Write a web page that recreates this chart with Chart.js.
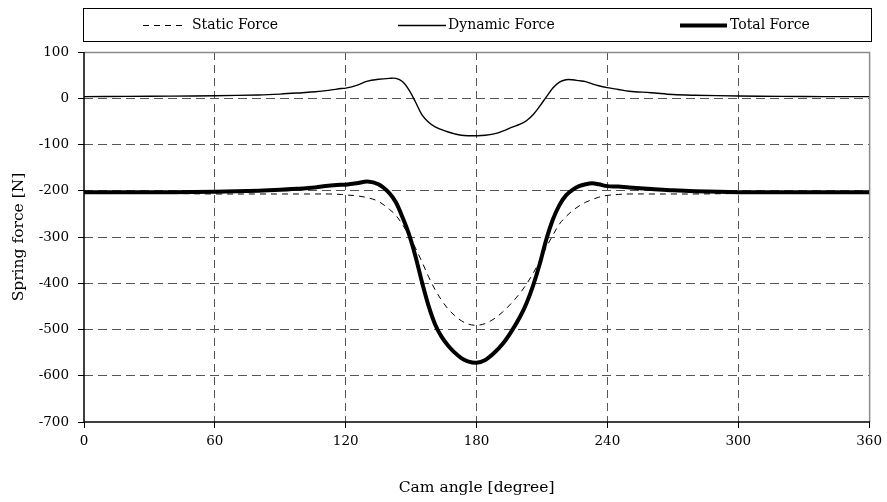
<!DOCTYPE html>
<html>
<head>
<meta charset="utf-8">
<script src="https://cdn.jsdelivr.net/npm/chart.js@4"></script>
<style>
  html, body { margin: 0; padding: 0; background: #fff; }
  #wrap { width: 887px; height: 502px; position: relative; }
</style>
</head>
<body>
<div id="wrap"><canvas id="c" width="887" height="502"></canvas></div>
<script>
// ---- data ----
const angles = [0, 20, 40, 60, 80, 90, 100, 106, 112, 118, 120, 125, 130, 135, 140, 143, 146, 149, 152, 155, 158, 161, 164, 167, 170, 173, 176, 180, 184, 188, 192, 196, 200, 203, 206, 209, 212, 215, 218, 221, 224, 227, 230, 233, 236, 240, 245, 250, 260, 270, 280, 300, 320, 340, 360];
const staticForce = [-206, -206, -206, -207, -207, -207, -207, -207, -207, -208, -209, -211, -215, -223, -240, -253, -273, -296, -324, -354, -386, -414, -437, -456, -470, -481, -488, -491, -487, -477, -462, -443, -421, -401, -378, -351, -322, -296, -272, -256, -243, -233, -225, -219, -214, -210, -208, -207, -207, -207, -207, -206, -206, -206, -206];
const dynamicForce = [3.5, 4, 4.5, 5.5, 7, 9, 12, 14, 17, 21, 22, 28, 37, 41, 43, 43, 36, 18, -8, -36, -52, -62, -68, -73, -77, -80, -81, -81, -80, -77, -71, -63, -56, -48, -35, -17, 3, 22, 35, 40, 40, 38, 36, 31, 27, 23, 19, 15, 12, 8, 6.5, 5, 4, 3.5, 3.5];
const totalForce = [-203, -203, -203, -202, -200, -198, -195, -193, -189, -187, -187, -184, -180, -186, -205, -225, -257, -294, -342, -398, -449, -489, -516, -535, -550, -562, -569, -572, -566, -551, -531, -504, -472, -442, -404, -358, -305, -262, -231, -210, -198, -190, -186, -184, -186, -190, -191, -193, -196, -199, -201, -203, -203, -203, -203];
const seriesNames = ['Static Force', 'Dynamic Force', 'Total Force'];
const xTicks = [0, 60, 120, 180, 240, 300, 360];
const yTicks = [100, 0, -100, -200, -300, -400, -500, -600, -700];
const xTitle = 'Cam angle [degree]';
const yTitle = 'Spring force [N]';

const FONT = '"DejaVu Serif", "Liberation Serif", serif';
const toPts = (vals) => angles.map((a, i) => ({ x: a, y: vals[i] }));

const frameAndLegend = {
  id: 'frameAndLegend',
  beforeDatasetsDraw(chart) {
    const { ctx, chartArea: ca } = chart;
    ctx.save();
    ctx.setLineDash([]);
    ctx.strokeStyle = '#8a8a8a';
    ctx.lineWidth = 1.5;
    ctx.beginPath();
    ctx.moveTo(ca.left, ca.top + 0.5);
    ctx.lineTo(ca.right + 0.5, ca.top + 0.5);
    ctx.lineTo(ca.right + 0.5, ca.bottom);
    ctx.stroke();
    ctx.strokeStyle = '#000';
    ctx.lineWidth = 1.5;
    ctx.beginPath();
    ctx.moveTo(ca.left, ca.top);
    ctx.lineTo(ca.left, ca.bottom);
    ctx.lineTo(ca.right + 1, ca.bottom);
    ctx.stroke();
    ctx.restore();
  },
  afterDraw(chart) {
    const { ctx } = chart;
    ctx.save();
    ctx.strokeStyle = '#000';
    ctx.lineWidth = 1;
    ctx.strokeRect(83.5, 8.5, 788, 33);
    const items = [
      { lx0: 143, lx1: 184, tx: 192 },
      { lx0: 398, lx1: 446, tx: 448 },
      { lx0: 680, lx1: 727, tx: 730 }
    ];
    const y = 25.5;
    chart.data.datasets.forEach((ds, i) => {
      const it = items[i];
      ctx.beginPath();
      ctx.setLineDash(ds.borderDash || []);
      ctx.lineWidth = ds.borderWidth;
      ctx.strokeStyle = ds.borderColor;
      ctx.moveTo(it.lx0, y);
      ctx.lineTo(it.lx1, y);
      ctx.stroke();
      ctx.setLineDash([]);
      ctx.fillStyle = '#000';
      ctx.font = '14px ' + FONT;
      ctx.textBaseline = 'middle';
      ctx.textAlign = 'left';
      ctx.fillText(ds.label, it.tx, y);
    });
    ctx.restore();
  }
};

new Chart(document.getElementById('c'), {
  type: 'line',
  data: {
    datasets: [
      { label: seriesNames[0], data: toPts(staticForce), borderColor: '#000', borderWidth: 1, borderDash: [6, 5], pointRadius: 0, tension: 0.35, fill: false },
      { label: seriesNames[1], data: toPts(dynamicForce), borderColor: '#000', borderWidth: 1.4, pointRadius: 0, tension: 0.35, fill: false },
      { label: seriesNames[2], data: toPts(totalForce), borderColor: '#000', borderWidth: 4, pointRadius: 0, tension: 0.35, fill: false }
    ]
  },
  options: {
    responsive: false,
    animation: false,
    layout: { padding: { top: 52, right: 16, left: 0, bottom: 0 } },
    plugins: { legend: { display: false }, tooltip: { enabled: false } },
    scales: {
      x: {
        type: 'linear',
        min: 0, max: 360,
        afterBuildTicks: (s) => { s.ticks = xTicks.map(v => ({ value: v })); },
        afterFit: (s) => { s.height = 80; },
        ticks: { color: '#000', font: { family: FONT, size: 13.5 }, padding: 5, maxRotation: 0 },
        grid: {
          color: (c) => (c.tick && (c.tick.value === 360 || c.tick.value === 0)) ? 'rgba(0,0,0,0)' : '#555',
          lineWidth: 1, drawTicks: true, tickLength: 6,
          tickColor: '#000', tickBorderDash: []
        },
        border: { display: false, color: '#000', width: 1.5, dash: [8, 5] },
        title: { display: true, text: xTitle, color: '#000', font: { family: FONT, size: 15.5 }, padding: { top: 0, bottom: 5 } }
      },
      y: {
        type: 'linear',
        min: -700, max: 100,
        afterBuildTicks: (s) => { s.ticks = yTicks.slice().reverse().map(v => ({ value: v })); },
        afterFit: (s) => { s.width = 84; },
        ticks: { color: '#000', font: { family: FONT, size: 13.5 }, padding: 9 },
        grid: {
          color: (c) => (c.tick && (c.tick.value === 100 || c.tick.value === -700)) ? 'rgba(0,0,0,0)' : '#555',
          lineWidth: 1, drawTicks: true, tickLength: 6,
          tickColor: '#000', tickBorderDash: []
        },
        border: { display: false, color: '#000', width: 1.5, dash: [9, 5] },
        title: { display: true, text: yTitle, color: '#000', font: { family: FONT, size: 15.5 }, padding: { top: 10, bottom: 0 } }
      }
    }
  },
  plugins: [frameAndLegend]
});
</script>
</body>
</html>
